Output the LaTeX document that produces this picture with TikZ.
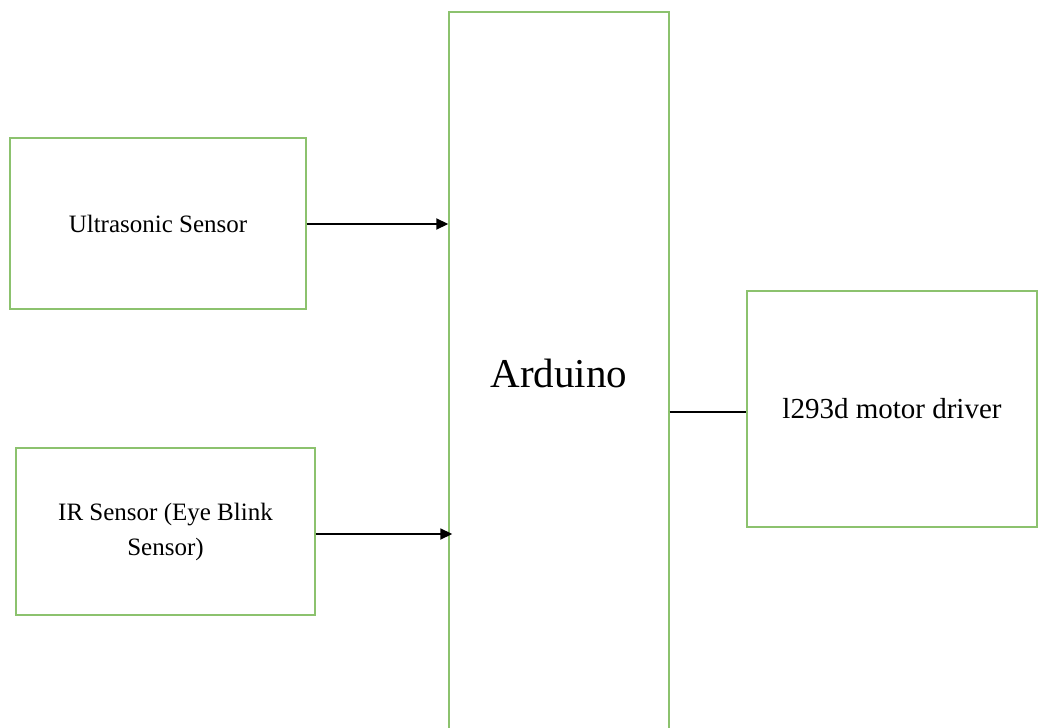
\documentclass[tikz,border=0pt]{standalone}
\usepackage{fontspec}
\setmainfont{Liberation Serif}
\usetikzlibrary{arrows.meta}
\definecolor{boxgreen}{HTML}{8CC26E}
\tikzset{
  blockbox/.style={draw=boxgreen, line width=1.4pt, rectangle, inner sep=0pt, align=center},
  conn/.style={draw=black, line width=1.8pt},
  arrowconn/.style={conn, -{Triangle[length=12pt,width=11pt]}},
}
\begin{document}
\begin{tikzpicture}[x=1pt,y=-1pt]
\useasboundingbox (0,0) rectangle (1039,728);
\clip (0,0) rectangle (1039,728);
\fill[white] (0,0) rectangle (1039,728);
\node[blockbox, minimum width=296pt, minimum height=171pt, font=\fontsize{25}{30}\selectfont] (ultra) at (158,223.5) {Ultrasonic Sensor};
\node[blockbox, minimum width=299pt, minimum height=167pt, font=\fontsize{25}{35}\selectfont] (ir) at (165.5,531.5) {IR Sensor (Eye Blink\\Sensor)};
\node[blockbox, minimum width=220pt, minimum height=722pt, font=\fontsize{41}{48}\selectfont] (ard) at (559,373) {Arduino};
\node[blockbox, minimum width=290pt, minimum height=236pt, font=\fontsize{29}{34}\selectfont] (mot) at (892,409) {l293d motor driver};
\draw[arrowconn] ([yshift=-0.5pt]ultra.east) -- ([yshift=-0.5pt]ultra.east -| ard.west);
\draw[arrowconn] ([yshift=-2.5pt]ir.east) -- ([xshift=4pt,yshift=-2.5pt]ir.east -| ard.west);
\draw[conn] ([yshift=-3pt]mot.west -| ard.east) -- ([yshift=-3pt]mot.west);
\end{tikzpicture}
\end{document}
